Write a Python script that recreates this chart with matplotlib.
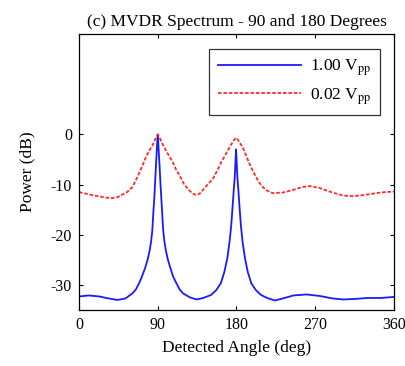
import matplotlib
matplotlib.use("Agg")
import matplotlib.pyplot as plt

plt.rcParams['font.family'] = ['Liberation Serif', 'DejaVu Serif']
plt.rcParams['mathtext.fontset'] = 'stix'
plt.rcParams['axes.unicode_minus'] = False

# Series: 1.00 Vpp (blue, solid)
blue_angle = [0, 11, 23, 34, 44, 53, 61, 65, 68.6, 72, 76, 78.5, 80.8, 82.5, 83.8, 85, 86.1, 87, 88,
              89, 89.5, 90, 90.5, 91, 92, 93, 94, 95, 96.2, 97.5, 99.2, 101.5, 104, 107.5, 111.4,
              115, 119, 127, 134.5, 142, 151, 157, 162, 166, 169.5, 172, 174, 175.5, 176.7, 178,
              178.8, 179.5, 180.2, 181, 182.3, 183.5, 185, 187, 189.7, 193, 197, 202, 208, 215,
              224, 235, 245, 260, 275, 290, 302, 315, 330, 345, 360]
blue_db = [-32.3, -32.1, -32.3, -32.7, -33.0, -32.7, -31.7, -30.9, -29.7, -28.3, -26.4, -24.9, -23.1,
           -21.2, -19.1, -15.5, -12.5, -9.5, -6.0, -3.0, -1.3, 0.0, -1.3, -3.0, -6.0, -9.5, -12.5,
           -15.5, -19.1, -21.2, -23.1, -24.9, -26.4, -28.3, -29.7,
           -30.9, -31.7, -32.5, -32.9, -32.6, -32.0, -31.0, -29.7, -27.5, -24.7, -21.5, -18.1,
           -14.5, -11.5, -8.5,
           -5.5, -3.0, -5.5, -8.5, -11.5, -14.5, -18.1, -21.5, -24.7, -27.5, -29.7, -31.0, -32.0,
           -32.6, -33.1, -32.6, -32.1, -31.9, -32.2, -32.7, -32.9, -32.8, -32.6, -32.6, -32.4]

# Series: 0.02 Vpp (red, dashed)
red_angle = [0, 15, 30.5, 38, 44, 49.5, 55, 61, 64.5, 68, 71, 74, 77.3, 80.5, 84.2, 87, 89, 90,
             91, 93, 96, 100, 103, 107, 111, 116, 120, 125, 130, 134, 138, 140, 145, 150, 153.5,
             158, 163, 167, 170, 173.7, 176.5, 178.5, 179.3, 180.5, 182.5, 185, 187, 190, 194.7,
             198.5, 202.3, 206, 210, 215, 221, 232.8, 244, 255, 264, 275, 290, 302, 313.5, 325,
             340, 350, 360]
red_db = [-11.5, -12.1, -12.6, -12.7, -12.5, -12.0, -11.5, -10.5, -9.3, -8.0, -6.8, -5.6, -4.2,
          -3.2, -2.1, -1.0, -0.3, -0.1,
          -0.3, -1.0, -2.1, -3.4, -4.3, -5.5, -7.0, -8.5, -9.9, -11.0, -11.8, -12.1, -11.8, -11.4,
          -10.4, -9.4, -8.7,
          -7.2, -5.4, -4.2, -3.2, -2.1, -1.3, -0.8, -0.7, -0.8, -1.3, -2.0, -2.5, -3.8, -5.8,
          -7.2, -8.5, -9.6, -10.5, -11.2, -11.7, -11.6, -11.1, -10.5, -10.3, -10.7, -11.6, -12.2,
          -12.3, -12.1, -11.7, -11.5, -11.4]

x_ticks = [0, 90, 180, 270, 360]
y_ticks = [-30, -20, -10, 0]
labels = ['1.00 V$_{\\mathrm{pp}}$', '0.02 V$_{\\mathrm{pp}}$']

fig = plt.figure(figsize=(4.06, 3.66), dpi=100)
ax = fig.add_axes([0.1946, 0.153, 0.7758, 0.754])

ax.plot(blue_angle, blue_db, color='#1a1aff', lw=1.3, label=labels[0])
ax.plot(red_angle, red_db, color='#ff2a2a', lw=1.3, linestyle=(0, (2, 1)), label=labels[1])

ax.set_xlim(0, 360)
ax.set_ylim(-35, 20)
ax.set_xticks(x_ticks)
ax.set_yticks(y_ticks)
ax.tick_params(direction='in', top=True, right=True, labelsize=11.5, length=3, width=0.8, pad=5)
for s in ax.spines.values():
    s.set_linewidth(0.9)

ax.set_title('(c) MVDR Spectrum - 90 and 180 Degrees', fontsize=12.5, pad=6)
ax.set_xlabel('Detected Angle (deg)', fontsize=12.5, labelpad=5)
ax.set_ylabel('Power (dB)', fontsize=12.5, labelpad=11)

leg = ax.legend(loc='upper right', fontsize=12.5, frameon=True, fancybox=False,
                edgecolor='black', handlelength=4.8, handletextpad=0.5, borderpad=0.5,
                labelspacing=0.45, borderaxespad=0, bbox_to_anchor=(0.9556, 0.9457))
leg.get_frame().set_linewidth(0.9)

fig.savefig('out.png', dpi=100)
